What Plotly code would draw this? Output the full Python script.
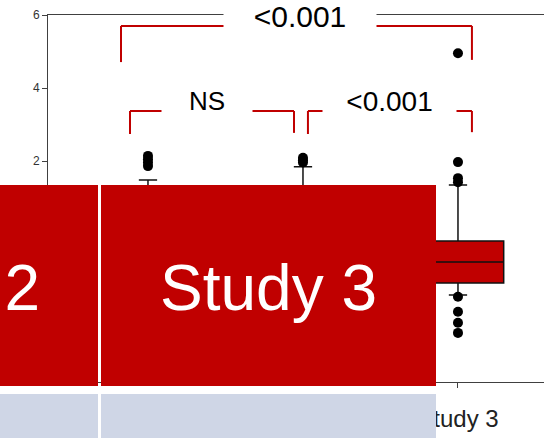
import plotly.graph_objects as go

# ---- data -------------------------------------------------------------
studies = ["Study 1", "Study 2", "Study 3"]

q1 = [-0.30, -0.20, -1.34]
median = [0.20, 0.35, -0.77]
q3 = [0.70, 0.90, -0.19]
lower_fence = [-1.30, -1.40, -1.67]
upper_fence = [1.48, 1.84, 1.34]

outliers_study1 = [2.14, 2.05, 1.96, 1.86]
outliers_study2 = [2.09, 2.02, 1.96]
outliers_study3 = [4.95, 1.97, 1.53, 1.42, -1.72, -2.13, -2.43, -2.71]

# pairwise comparison labels: (left study index, right study index, label)
comparisons = [
    (0, 2, "<0.001"),
    (0, 1, "NS"),
    (1, 2, "<0.001"),
]

y_ticks = [-4, -2, 0, 2, 4, 6]

RED = "#C00000"
AXIS = "#404040"

# ---- figure geometry (pixels) ----------------------------------------
W, H = 544, 438
M_L, M_R, M_T, M_B = 48, 0, 15, 56
PW, PH = W - M_L - M_R, H - M_T - M_B


def paper_x(px):
    return (px - M_L) / PW


def paper_y(py):
    return (H - M_B - py) / PH


fig = go.Figure()

fig.add_trace(go.Box(
    x=studies,
    q1=q1, median=median, q3=q3,
    lowerfence=lower_fence, upperfence=upper_fence,
    boxpoints=False,
    width=0.59,
    whiskerwidth=0.2,
    fillcolor=RED,
    line=dict(color="#111111", width=1.5),
    showlegend=False,
))

out_x, out_y = [], []
for name, vals in zip(studies, [outliers_study1, outliers_study2, outliers_study3]):
    out_x += [name] * len(vals)
    out_y += vals

fig.add_trace(go.Scatter(
    x=out_x, y=out_y, mode="markers",
    marker=dict(color="black", size=10),
    showlegend=False,
))

# ---- significance brackets -------------------------------------------
# per bracket: x ends (category units), top y, leg ends, label centre,
# label size and width of the white label box (px)
bracket_geom = [
    dict(xl=-0.174, xr=2.090, yt=5.70, yl=4.71, yr=4.77, lx=0.981, fs=30, gap=150),
    dict(xl=-0.116, xr=0.942, yt=3.37, yl=2.74, yr=2.77, lx=0.381, fs=26, gap=88),
    dict(xl=1.032, xr=2.090, yt=3.37, yl=2.74, yr=2.79, lx=1.558, fs=28, gap=131),
]

shapes = []
annotations = []
for (a, b, label), g in zip(comparisons, bracket_geom):
    seg = dict(type="line", xref="x", yref="y", line=dict(color=RED, width=2))
    shapes.append({**seg, "x0": g["xl"], "x1": g["xl"], "y0": g["yl"], "y1": g["yt"]})
    shapes.append({**seg, "x0": g["xl"], "x1": g["xr"], "y0": g["yt"], "y1": g["yt"]})
    shapes.append({**seg, "x0": g["xr"], "x1": g["xr"], "y0": g["yt"], "y1": g["yr"]})
    annotations.append(dict(
        x=g["lx"], y=g["yt"], xref="x", yref="y",
        text=label, showarrow=False,
        yshift=10, width=g["gap"], height=40,
        bgcolor="white",
        font=dict(family="Liberation Sans, Arial", size=g["fs"], color="black"),
    ))

# ---- header / body cells drawn over the lower part --------------------
header_cols = [(-235, 98, "Study 2"), (101, 436, "Study 3")]

# white backing behind the cells (keeps the gap between rows clean)
shapes.append(dict(type="rect", xref="paper", yref="paper", layer="above",
                   x0=paper_x(-250), x1=paper_x(436),
                   y0=paper_y(396), y1=paper_y(384),
                   fillcolor="white", line=dict(width=0)))

for x0, x1, text in header_cols:
    shapes.append(dict(type="rect", xref="paper", yref="paper", layer="above",
                       x0=paper_x(x0), x1=paper_x(x1),
                       y0=paper_y(386), y1=paper_y(185),
                       fillcolor=RED, line=dict(width=0)))
    shapes.append(dict(type="rect", xref="paper", yref="paper", layer="above",
                       x0=paper_x(x0), x1=paper_x(x1),
                       y0=paper_y(470), y1=paper_y(394),
                       fillcolor="#CFD6E6", line=dict(width=0)))
    annotations.append(dict(
        x=paper_x((x0 + x1) / 2), y=paper_y(288), xref="paper", yref="paper",
        text=text, showarrow=False, xanchor="center", yanchor="middle",
        font=dict(family="Liberation Sans, Arial", size=64, color="white"),
    ))

fig.update_layout(
    width=W, height=H,
    margin=dict(l=M_L, r=M_R, t=M_T, b=M_B),
    paper_bgcolor="white", plot_bgcolor="white",
    shapes=shapes, annotations=annotations,
    xaxis=dict(
        type="category", range=[-0.645, 2.555],
        showline=True, linecolor=AXIS, linewidth=1, mirror=True,
        ticks="outside", ticklen=5, tickcolor=AXIS,
        ticklabelstandoff=10,
        showgrid=False, zeroline=False,
        tickfont=dict(family="Liberation Sans, Arial", size=24, color="#222222"),
    ),
    yaxis=dict(
        range=[-4.055, 6], tickvals=y_ticks,
        showline=True, linecolor=AXIS, linewidth=1,
        ticks="outside", ticklen=5, tickcolor=AXIS,
        showgrid=False, zeroline=False,
        tickfont=dict(family="Liberation Sans, Arial", size=12, color="#333333"),
    ),
)

fig.write_html("out.html")
